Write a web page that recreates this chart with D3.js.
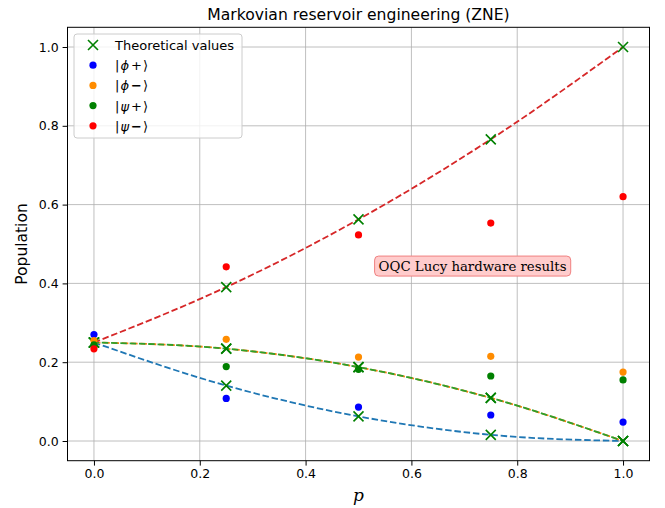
<!DOCTYPE html>
<html>
<head>
<meta charset="utf-8">
<script src="https://cdn.jsdelivr.net/npm/d3@7"></script>
<style>
  html, body { margin: 0; padding: 0; background: #fff; }
  svg { display: block; }
  text { font-family: "DejaVu Sans", sans-serif; }
</style>
</head>
<body>
<div id="chart"></div>
<script>
// ---- data ----
const pValues = [0, 0.25, 0.5, 0.75, 1.0];
const phiPlusTheory  = [0.25, 0.140625, 0.0625, 0.015625, 0];
const phiMinusTheory = [0.25, 0.234375, 0.1875, 0.109375, 0];
const psiPlusTheory  = [0.25, 0.234375, 0.1875, 0.109375, 0];
const psiMinusTheory = [0.25, 0.390625, 0.5625, 0.765625, 1.0];

const phiPlus  = [0.270, 0.108, 0.086, 0.066, 0.048];
const phiMinus = [0.255, 0.258, 0.213, 0.215, 0.175];
const psiPlus  = [0.244, 0.189, 0.182, 0.165, 0.155];
const psiMinus = [0.234, 0.442, 0.523, 0.553, 0.620];

const xTicks = [0, 0.2, 0.4, 0.6, 0.8, 1.0];
const yTicks = [0, 0.2, 0.4, 0.6, 0.8, 1.0];

const W = 665, H = 508;
const L = 67.5, R = 649.5, T = 27.3, B = 460.7;

const svg = d3.select("#chart").append("svg").attr("width", W).attr("height", H);

const x = d3.scaleLinear().domain([-0.05, 1.05]).range([L, R]);
const y = d3.scaleLinear().domain([-0.05, 1.05]).range([B, T]);

// grid
const grid = svg.append("g");
grid.selectAll(".gx").data(xTicks).enter().append("line")
  .attr("x1", d => x(d)).attr("x2", d => x(d)).attr("y1", T).attr("y2", B)
  .attr("stroke", "#b0b0b0").attr("stroke-width", 1).attr("opacity", 0.8);
grid.selectAll(".gy").data(yTicks).enter().append("line")
  .attr("y1", d => y(d)).attr("y2", d => y(d)).attr("x1", L).attr("x2", R)
  .attr("stroke", "#b0b0b0").attr("stroke-width", 1).attr("opacity", 0.8);

// axes
const xAxis = d3.axisBottom(x).tickValues(xTicks).tickFormat(d3.format(".1f")).tickSize(4.9).tickPadding(4);
const yAxis = d3.axisLeft(y).tickValues(yTicks).tickFormat(d3.format(".1f")).tickSize(4.9).tickPadding(4);
const gx = svg.append("g").attr("transform", `translate(0,${B})`).call(xAxis);
const gy = svg.append("g").attr("transform", `translate(${L},0)`).call(yAxis);
[gx, gy].forEach(g => {
  g.select(".domain").remove();
  g.selectAll("text").style("font-family", "DejaVu Sans").style("font-size", "12.5px").attr("fill", "#000");
  g.selectAll("line").attr("stroke", "#000").attr("stroke-width", 1);
});

// frame
svg.append("rect").attr("x", L).attr("y", T).attr("width", R - L).attr("height", B - T)
  .attr("fill", "none").attr("stroke", "#000").attr("stroke-width", 1);

// theoretical dashed curves
const line = d3.line().x((d, i) => x(pValues[i])).y(d => y(d)).curve(d3.curveMonotoneX);
const curves = [
  { data: phiPlusTheory, color: "#1f77b4", off: 0 },
  { data: phiMinusTheory, color: "#ff7f0e", off: 0 },
  { data: psiPlusTheory, color: "#2ca02c", off: 1.5 },
  { data: psiMinusTheory, color: "#d62728", off: 0 }
];
curves.forEach(c => {
  svg.append("path").attr("d", line(c.data)).attr("fill", "none")
    .attr("stroke", c.color).attr("stroke-width", 1.8)
    .attr("stroke-dasharray", "6.5,2.8").attr("stroke-dashoffset", c.off);
});

// theoretical X markers
const allTheory = [phiPlusTheory, phiMinusTheory, psiPlusTheory, psiMinusTheory];
const xs = 5;
allTheory.forEach(arr => {
  arr.forEach((v, i) => {
    const cx = x(pValues[i]), cy = y(v);
    svg.append("path")
      .attr("d", `M${cx - xs},${cy - xs}L${cx + xs},${cy + xs}M${cx - xs},${cy + xs}L${cx + xs},${cy - xs}`)
      .attr("stroke", "#008000").attr("stroke-width", 1.6).attr("fill", "none");
  });
});

// measured dots
const measured = [
  { data: phiPlus, color: "#0000ff" },
  { data: phiMinus, color: "#ff8c00" },
  { data: psiPlus, color: "#008000" },
  { data: psiMinus, color: "#ff0000" }
];
measured.forEach(m => {
  svg.append("g").selectAll("circle").data(m.data).enter().append("circle")
    .attr("cx", (d, i) => x(pValues[i])).attr("cy", d => y(d)).attr("r", 3.6)
    .attr("fill", m.color);
});

// annotation box
const ann = svg.append("g");
const annText = ann.append("text").attr("x", x(0.538)).attr("y", y(0.444))
  .attr("dominant-baseline", "central")
  .style("font-family", "DejaVu Serif").style("font-size", "13.3px").attr("fill", "#000")
  .text("OQC Lucy hardware results");
const bb = annText.node().getBBox();
ann.insert("rect", "text").attr("x", bb.x - 4).attr("y", bb.y - 2.5)
  .attr("width", bb.width + 8).attr("height", bb.height + 5)
  .attr("rx", 4).attr("ry", 4)
  .attr("fill", "#ffcccc").attr("stroke", "#f08080").attr("stroke-width", 1);

// legend
const lg = svg.append("g");
lg.append("rect").attr("x", 74).attr("y", 34).attr("width", 168).attr("height", 104)
  .attr("rx", 3).attr("ry", 3).attr("fill", "#fff").attr("fill-opacity", 0.8)
  .attr("stroke", "#cccccc").attr("stroke-width", 1);
const ly0 = 45, ldy = 20.2, lmx = 93, ltx = 115;
// theoretical entry
lg.append("path")
  .attr("d", `M${lmx - xs},${ly0 - xs}L${lmx + xs},${ly0 + xs}M${lmx - xs},${ly0 + xs}L${lmx + xs},${ly0 - xs}`)
  .attr("stroke", "#008000").attr("stroke-width", 1.6);
lg.append("text").attr("x", ltx).attr("y", ly0).attr("dominant-baseline", "central")
  .style("font-size", "13px").text("Theoretical values");
const labels = [
  { sym: "ϕ", sign: "+" }, { sym: "ϕ", sign: "−" },
  { sym: "ψ", sign: "+" }, { sym: "ψ", sign: "−" }
];
labels.forEach((lab, i) => {
  const yy = ly0 + ldy * (i + 1);
  lg.append("circle").attr("cx", lmx).attr("cy", yy).attr("r", 3.6).attr("fill", measured[i].color);
  const t = lg.append("text").attr("x", ltx).attr("y", yy).attr("dominant-baseline", "central")
    .style("font-size", "13px");
  t.append("tspan").text("|");
  t.append("tspan").style("font-style", "italic").attr("dx", 1).text(lab.sym);
  t.append("tspan").attr("dx", 2).style("font-weight", lab.sign === "−" ? "bold" : "normal").text(lab.sign);
  t.append("tspan").attr("dx", 1).text("⟩");
});

// title & axis labels
svg.append("text").attr("x", (L + R) / 2).attr("y", 20).attr("text-anchor", "middle")
  .style("font-size", "15.6px").text("Markovian reservoir engineering (ZNE)");
svg.append("text").attr("x", (L + R) / 2).attr("y", 501).attr("text-anchor", "middle")
  .style("font-family", "DejaVu Serif").style("font-style", "italic").style("font-size", "17px").text("p");
svg.append("text").attr("transform", `translate(27,${(T + B) / 2}) rotate(-90)`).attr("text-anchor", "middle")
  .style("font-size", "15.5px").text("Population");
</script>
</body>
</html>
